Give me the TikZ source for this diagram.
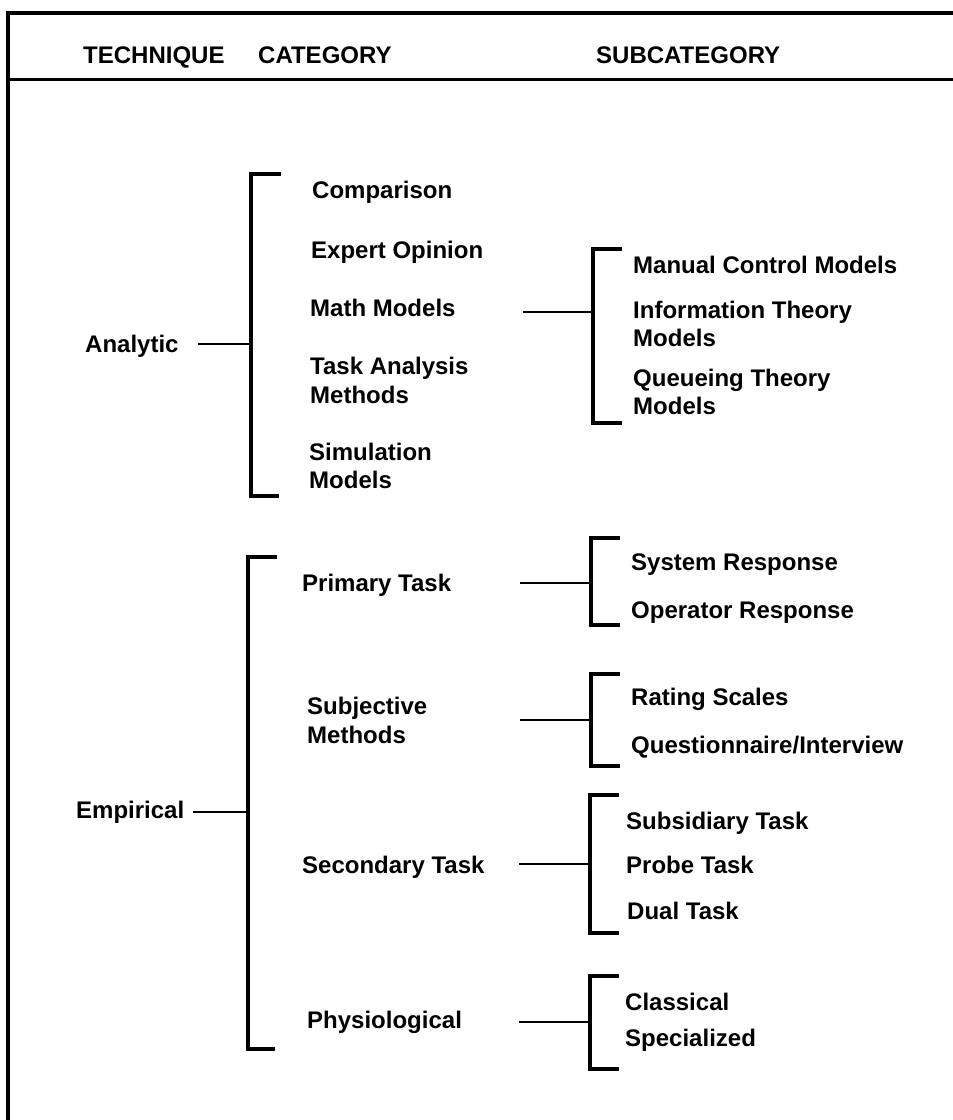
\documentclass[tikz,border=0pt]{standalone}
\usepackage{fontspec}
\setmainfont{Liberation Sans}
\begin{document}
\begin{tikzpicture}[x=1pt,y=-1pt,
  head/.style={anchor=base west, inner sep=0pt, font=\fontsize{24}{28}\selectfont\bfseries},
  lbl/.style={anchor=base west, inner sep=0pt, font=\fontsize{24}{28.5}\selectfont\bfseries},
  lbltwo/.style={anchor=west, inner sep=0pt, align=left, font=\fontsize{24}{28.5}\selectfont\bfseries},
  frame/.style={line width=4pt, line cap=rect},
  hrule/.style={line width=3pt},
  brk/.style={line width=3.6pt, line join=miter},
  conn/.style={line width=2.6pt}]
\useasboundingbox (0,0) rectangle (953,1120);

% frame and header rule
\draw[frame] (8,1120) -- (8,13) -- (953,13);
\draw[hrule] (8,79) -- (953,79);

% column headings
\node[head] (hTech) at (83,63) {TECHNIQUE};
\node[head] (hCat) at (258,63) {CATEGORY};
\node[head] (hSub) at (596,63) {SUBCATEGORY};

% ---------------- Analytic ----------------
\node[lbl] (analytic) at (85,352) {Analytic};
\coordinate (aS) at (198,344);
\coordinate (aJ) at (251,344);
\draw[conn] (aS) -- (aJ);
\draw[brk] (281,174) -| (aJ) |- (279,496);

\node[lbl] (comp) at (312,198) {Comparison};
\node[lbl] (expert) at (311,258) {Expert Opinion};
\node[lbl] (math) at (310,316) {Math Models};
\node[lbltwo] (taskan) at (310,380.5) {Task Analysis\\Methods};
\node[lbltwo] (simul) at (309,466) {Simulation\\Models};

\coordinate (mS) at (523,312);
\coordinate (mJ) at (593,312);
\draw[conn] (mS) -- (mJ);
\draw[brk] (622,249) -| (mJ) |- (622,423);

\node[lbl] (manual) at (633,273) {Manual Control Models};
\node[lbltwo] (infoth) at (633,324) {Information Theory\\Models};
\node[lbltwo] (queue) at (633,392) {Queueing Theory\\Models};

% ---------------- Empirical ----------------
\node[lbl] (empirical) at (76,818) {Empirical};
\coordinate (eS) at (193,812);
\coordinate (eJ) at (248,812);
\draw[conn] (eS) -- (eJ);
\draw[brk] (277,557) -| (eJ) |- (275,1049);

% Primary task
\node[lbl] (primary) at (302,591) {Primary Task};
\coordinate (pS) at (520,583);
\coordinate (pJ) at (591,583);
\draw[conn] (pS) -- (pJ);
\draw[brk] (620,538) -| (pJ) |- (620,625);
\node[lbl] (sysresp) at (631,570) {System Response};
\node[lbl] (opresp) at (631,618) {Operator Response};

% Subjective methods
\node[lbltwo] (subj) at (307,720.5) {Subjective\\Methods};
\coordinate (sS) at (520,720);
\coordinate (sJ) at (591,720);
\draw[conn] (sS) -- (sJ);
\draw[brk] (620,674) -| (sJ) |- (620,766);
\node[lbl] (rating) at (631,705) {Rating Scales};
\node[lbl] (quest) at (631,753) {Questionnaire/Interview};

% Secondary task
\node[lbl] (secondary) at (302,873) {Secondary Task};
\coordinate (tS) at (519,864);
\coordinate (tJ) at (590,864);
\draw[conn] (tS) -- (tJ);
\draw[brk] (619,795) -| (tJ) |- (619,933);
\node[lbl] (subsid) at (626,829) {Subsidiary Task};
\node[lbl] (probe) at (626,873) {Probe Task};
\node[lbl] (dual) at (627,919) {Dual Task};

% Physiological
\node[lbl] (physio) at (307,1028) {Physiological};
\coordinate (yS) at (519,1022);
\coordinate (yJ) at (590,1022);
\draw[conn] (yS) -- (yJ);
\draw[brk] (619,976) -| (yJ) |- (619,1069);
\node[lbl] (classical) at (625,1010) {Classical};
\node[lbl] (special) at (625,1046) {Specialized};
\end{tikzpicture}
\end{document}
